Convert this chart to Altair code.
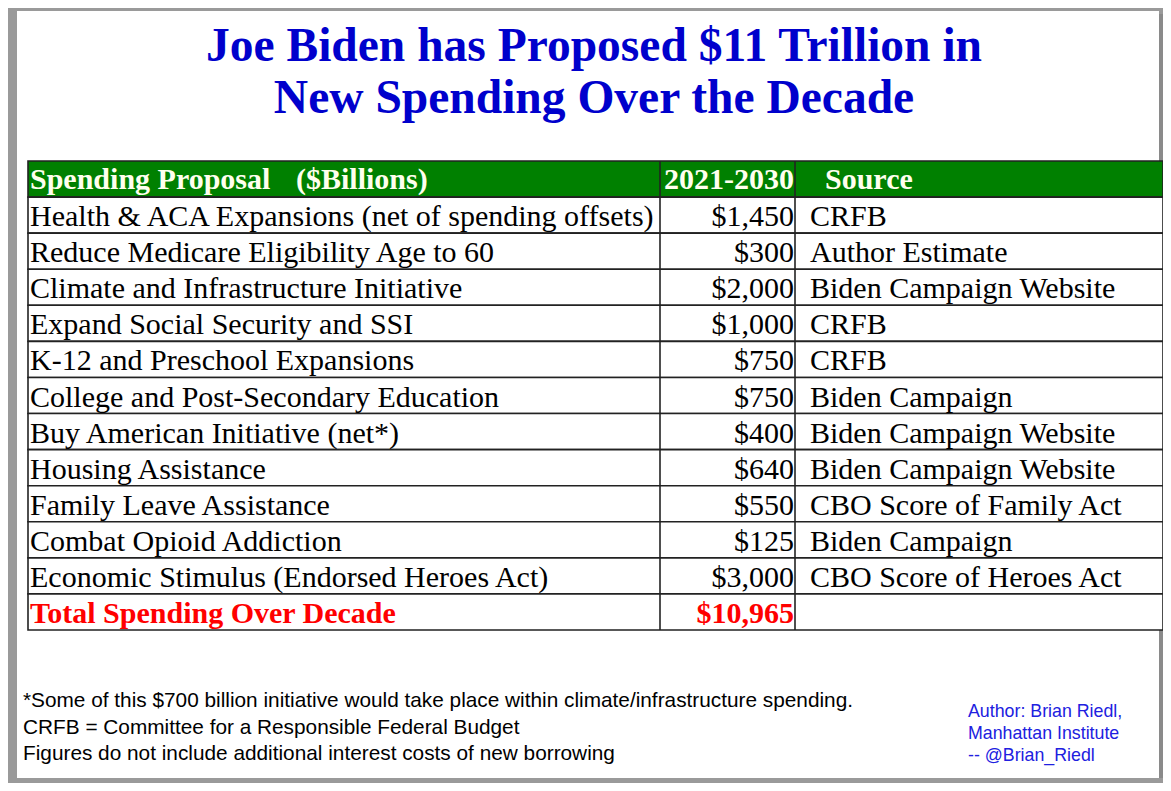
import altair as alt
import pandas as pd

title_lines = ["Joe Biden has Proposed $11 Trillion in", "New Spending Over the Decade"]
header_cols = ["Spending Proposal", "($Billions)", "2021-2030", "Source"]
proposals = [
    "Health & ACA Expansions (net of spending offsets)",
    "Reduce Medicare Eligibility Age to 60",
    "Climate and Infrastructure Initiative",
    "Expand Social Security and SSI",
    "K-12 and Preschool Expansions",
    "College and Post-Secondary Education",
    "Buy American Initiative (net*)",
    "Housing Assistance",
    "Family Leave Assistance",
    "Combat Opioid Addiction",
    "Economic Stimulus (Endorsed Heroes Act)",
]
values = [1450, 300, 2000, 1000, 750, 750, 400, 640, 550, 125, 3000]
sources = [
    "CRFB",
    "Author Estimate",
    "Biden Campaign Website",
    "CRFB",
    "CRFB",
    "Biden Campaign",
    "Biden Campaign Website",
    "Biden Campaign Website",
    "CBO Score of Family Act",
    "Biden Campaign",
    "CBO Score of Heroes Act",
]
total_label = "Total Spending Over Decade"
total_value = 10965
footnotes = [
    "*Some of this $700 billion initiative would take place within climate/infrastructure spending.",
    "CRFB = Committee for a Responsible Federal Budget",
    "Figures do not include additional interest costs of new borrowing",
]
author_lines = ["Author: Brian Riedl,", "Manhattan Institute", "-- @Brian_Riedl"]

W, H = 1155, 775
SERIF = "Liberation Serif"
SANS = "Liberation Sans"
n_rows = len(proposals) + 2  # header + body + total
yscale = alt.Scale(domain=[0, n_rows], range=[153, 622])

rows = pd.DataFrame({
    "top": list(range(n_rows)),
    "bottom": [i + 1 for i in range(n_rows)],
    "kind": ["header"] + ["body"] * len(proposals) + ["total"],
})
body = pd.DataFrame({
    "proposal": proposals,
    "value": values,
    "source": sources,
    "mid": [i + 1.5 for i in range(len(proposals))],
})
total_df = pd.DataFrame({"label": [total_label], "value": [total_value], "mid": [n_rows - 0.5]})
header_df = pd.DataFrame({"mid": [0.5]})

Y_MID = alt.Y("mid:Q", scale=yscale, axis=None)

# page frame
frame_shadow = alt.Chart(header_df).mark_rect(color="#8a8a8a").encode(
    x=alt.value(1150), x2=alt.value(1158), y=alt.value(6), y2=alt.value(770))
frame = alt.Chart(header_df).mark_rect(color="#ffffff").encode(
    x=alt.value(9), x2=alt.value(1151), y=alt.value(3), y2=alt.value(770))

cells = alt.Chart(rows).mark_rect(stroke="#222222", strokeWidth=1.6).encode(
    x=alt.value(20), x2=alt.value(1155),
    y=alt.Y("top:Q", scale=yscale, axis=None), y2="bottom:Q",
    fill=alt.Fill("kind:N", scale=alt.Scale(domain=["header", "body", "total"],
                                           range=["#008000", "#ffffff", "#ffffff"]), legend=None),
)
div1 = alt.Chart(rows).mark_rule(stroke="#222222", strokeWidth=1.6).encode(
    x=alt.value(652), y=alt.Y("top:Q", scale=yscale, axis=None), y2="bottom:Q")
div2 = alt.Chart(rows).mark_rule(stroke="#222222", strokeWidth=1.6).encode(
    x=alt.value(787), y=alt.Y("top:Q", scale=yscale, axis=None), y2="bottom:Q")

FS = 30
hdr_style = dict(font=SERIF, fontSize=FS, fontWeight="bold", color="#FFFFEE", baseline="alphabetic", dy=10)
hdr1 = alt.Chart(header_df).mark_text(align="left", text=header_cols[0], **hdr_style).encode(x=alt.value(22), y=Y_MID)
hdr2 = alt.Chart(header_df).mark_text(align="left", text=header_cols[1], **hdr_style).encode(x=alt.value(288), y=Y_MID)
hdr3 = alt.Chart(header_df).mark_text(align="center", text=header_cols[2], **hdr_style).encode(x=alt.value(721), y=Y_MID)
hdr4 = alt.Chart(header_df).mark_text(align="left", text=header_cols[3], **hdr_style).encode(x=alt.value(817), y=Y_MID)

body_style = dict(font=SERIF, fontSize=FS, color="#000000", baseline="alphabetic", dy=11)
t_prop = alt.Chart(body).mark_text(align="left", **body_style).encode(
    x=alt.value(22), y=Y_MID, text="proposal:N")
t_val = alt.Chart(body).mark_text(align="right", **body_style).encode(
    x=alt.value(786), y=Y_MID, text=alt.Text("value:Q", format="$,.0f"))
t_src = alt.Chart(body).mark_text(align="left", **body_style).encode(
    x=alt.value(802), y=Y_MID, text="source:N")

tot_style = dict(font=SERIF, fontSize=FS, fontWeight="bold", color="#FF0000", baseline="alphabetic", dy=11)
t_tot = alt.Chart(total_df).mark_text(align="left", **tot_style).encode(
    x=alt.value(22), y=Y_MID, text="label:N")
t_totv = alt.Chart(total_df).mark_text(align="right", **tot_style).encode(
    x=alt.value(786), y=Y_MID, text=alt.Text("value:Q", format="$,.0f"))

layers = [frame_shadow, frame, cells, div1, div2, hdr1, hdr2, hdr3, hdr4, t_prop, t_val, t_src, t_tot, t_totv]

title_y = [53, 105]
for line, yy in zip(title_lines, title_y):
    layers.append(alt.Chart(header_df).mark_text(
        text=line, font=SERIF, fontSize=47.5, fontWeight="bold", color="#0000CC",
        align="center", baseline="alphabetic").encode(x=alt.value(586), y=alt.value(yy)))

for k, line in enumerate(footnotes):
    layers.append(alt.Chart(header_df).mark_text(
        text=line, font=SANS, fontSize=20.8, color="#000000",
        align="left", baseline="alphabetic").encode(x=alt.value(15), y=alt.value(699 + 26.5 * k)))

for k, line in enumerate(author_lines):
    layers.append(alt.Chart(header_df).mark_text(
        text=line, font=SANS, fontSize=17.8, color="#2020E0",
        align="left", baseline="alphabetic").encode(x=alt.value(960), y=alt.value(709 + 22 * k)))

chart = alt.layer(*layers).properties(
    width=W, height=H, background="#9a9a9a", padding=0,
    autosize=alt.AutoSizeParams(type="none"),
).configure_view(stroke=None)

chart.save("out.html", embed_options={"renderer": "svg", "actions": False})
